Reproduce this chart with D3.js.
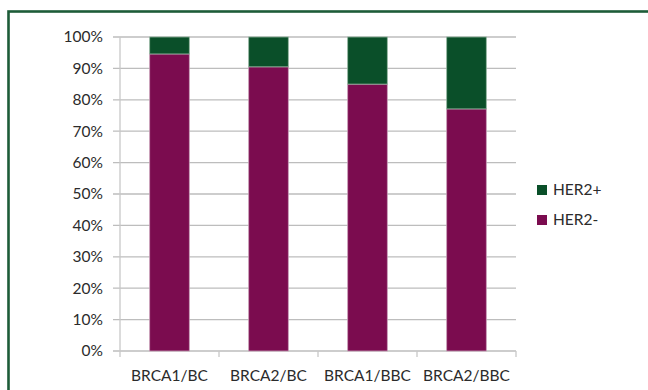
<!DOCTYPE html>
<html><head><meta charset="utf-8">
<script src="https://cdn.jsdelivr.net/npm/d3@7"></script>
<style>
html,body{margin:0;padding:0;background:#fff;overflow:hidden}
text{font-family:Lato,"Open Sans",sans-serif;fill:#2b2b2b}
</style></head>
<body>
<svg id="c" width="648" height="390"></svg>
<script>
const categories = ["BRCA1/BC","BRCA2/BC","BRCA1/BBC","BRCA2/BBC"];
const her2neg = [94.6, 90.5, 85.0, 77.1];
const her2pos = [5.4, 9.5, 15.0, 22.9];
const seriesNames = ["HER2+","HER2-"];
const seriesColors = ["#0a4f29","#7b0c4f"];
const yTicks = [0,10,20,30,40,50,60,70,80,90,100];

const svg = d3.select("#c");
// frame
svg.append("rect").attr("x",8.5).attr("y",11.5).attr("width",660).attr("height",400)
  .attr("fill","none").attr("stroke","#1d5c38").attr("stroke-width",2.6);

const L=120, R=516, T=37, B=351;
const x = d3.scaleBand().domain(categories).range([L,R]).paddingInner(0.6).paddingOuter(0.3);
const y = d3.scaleLinear().domain([0,100]).range([B,T]);

// gridlines
svg.append("g").selectAll("line").data(yTicks).join("line")
  .attr("x1",L-7).attr("x2",R).attr("y1",d=>y(d)).attr("y2",d=>y(d))
  .attr("stroke","#bdbdbd").attr("stroke-width",1.3);
// y axis line
svg.append("line").attr("x1",L).attr("x2",L).attr("y1",T).attr("y2",B).attr("stroke","#c8c8c8").attr("stroke-width",1.3);
// y labels
svg.append("g").selectAll("text").data(yTicks).join("text")
  .attr("x",L-17).attr("y",d=>y(d)).attr("dy","0.35em").attr("text-anchor","end")
  .attr("font-size",15.5).text(d=>d+"%");
// x category ticks
const band = (R-L)/categories.length;
const boundaries = d3.range(categories.length+1).map(i=>L+i*band);
svg.append("g").selectAll("line").data(boundaries).join("line")
  .attr("x1",d=>d).attr("x2",d=>d).attr("y1",B).attr("y2",B+6)
  .attr("stroke","#c8c8c8").attr("stroke-width",1.3);

// stacked bars
const rows = categories.map((c,i)=>({cat:c,"HER2-":her2neg[i],"HER2+":her2pos[i]}));
const stack = d3.stack().keys(["HER2-","HER2+"])(rows);
const color = d3.scaleOrdinal().domain(seriesNames).range(seriesColors);
svg.append("g").selectAll("g").data(stack).join("g")
  .attr("fill",d=>color(d.key)).attr("stroke",d=>d.key==="HER2+"?"#8fb39c":"#c79ab5").attr("stroke-width",0.8)
  .selectAll("rect").data(d=>d).join("rect")
  .attr("x",d=>x(d.data.cat)).attr("width",x.bandwidth())
  .attr("y",d=>y(d[1])).attr("height",d=>y(d[0])-y(d[1]));

// x labels
svg.append("g").selectAll("text").data(categories).join("text")
  .attr("x",d=>x(d)+x.bandwidth()/2).attr("y",381).attr("text-anchor","middle")
  .attr("font-size",15.5).text(d=>d);

// legend
const lg = svg.append("g").selectAll("g").data(seriesNames).join("g")
  .attr("transform",(d,i)=>`translate(537,${185+i*30})`);
lg.append("rect").attr("width",10).attr("height",10).attr("fill",d=>color(d));
lg.append("text").attr("x",16).attr("y",5).attr("dy","0.35em").attr("font-size",15.5).text(d=>d);
</script>
</body></html>
